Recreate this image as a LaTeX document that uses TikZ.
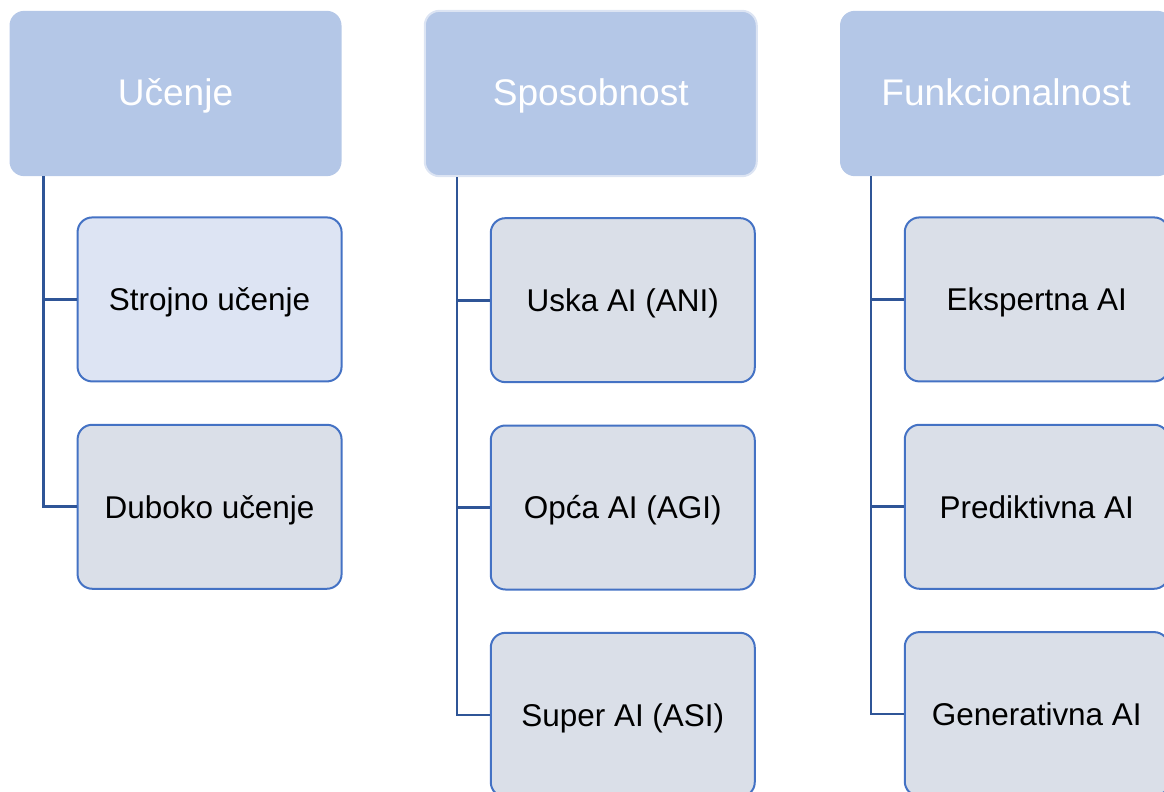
\documentclass[tikz,border=0pt]{standalone}
\usepackage{fontspec}
\setmainfont{Liberation Sans}
\usepackage{xcolor}
\usepackage{tikz}
\usetikzlibrary{positioning}
\definecolor{headfill}{HTML}{B4C7E7}
\definecolor{headline}{HTML}{DCE4F3}
\definecolor{leaffill}{HTML}{DADFE8}
\definecolor{leaflight}{HTML}{DDE4F3}
\definecolor{leafline}{HTML}{4472C4}
\definecolor{linkline}{HTML}{2F5597}
\tikzset{head/.style ={fill=headfill, rounded corners=11pt, minimum width=249pt, minimum height=124pt, inner sep=0pt, text height=19.9pt, text depth=2pt, text=white, font=\fontsize{27.8}{32}\selectfont}}
\tikzset{leaf/.style ={draw=leafline, line width=1.5pt, fill=leaffill, rounded corners=11pt, minimum width=198pt, minimum height=123pt, inner sep=0pt, text height=16.9pt, text depth=0pt, font=\fontsize{23.6}{28}\selectfont}}
\tikzset{link/.style ={draw=linkline, line width=2pt}}

\begin{document}
\begin{tikzpicture}[x=0.75pt,y=-0.75pt]
\useasboundingbox (0,0) rectangle (1164,792);
\clip (0,0) rectangle (1164,792);
\node [head] (ucenje) at (175.5,93.5) {Učenje};
\node [head, draw=headline, line width=1.5pt, right=61.5pt of ucenje] (sposobnost) {Sposobnost};
\node [head, right=61.5pt of sposobnost] (funkcija) {Funkcionalnost};

\node [leaf, fill=leaflight, anchor=north west] (strojno) at ([xshift=50.5pt,yshift=-30pt]ucenje.south west) {Strojno učenje};
\node [leaf, below=31pt of strojno] (duboko) {Duboko učenje};

\node [leaf, anchor=north west] (uska) at ([xshift=49.5pt,yshift=-30pt]sposobnost.south west) {Uska AI (ANI)};
\node [leaf, below=31pt of uska] (opca) {Opća AI (AGI)};
\node [leaf, below=31pt of opca] (super) {Super AI (ASI)};

\node [leaf, anchor=north west] (ekspertna) at ([xshift=48pt,yshift=-30pt]funkcija.south west) {Ekspertna AI};
\node [leaf, below=31pt of ekspertna] (prediktivna) {Prediktivna AI};
\node [leaf, below=31pt of prediktivna] (generativna) {Generativna AI};

\draw [link] ([xshift=25.5pt]ucenje.south west) |- (strojno.west);
\draw [link] ([xshift=25.5pt]ucenje.south west) |- (duboko.west);
\draw [link] ([xshift=25pt]sposobnost.south west) |- (uska.west);
\draw [link] ([xshift=25pt]sposobnost.south west) |- (opca.west);
\draw [link] ([xshift=25pt]sposobnost.south west) |- (super.west);
\draw [link] ([xshift=23.5pt]funkcija.south west) |- (ekspertna.west);
\draw [link] ([xshift=23.5pt]funkcija.south west) |- (prediktivna.west);
\draw [link] ([xshift=23.5pt]funkcija.south west) |- (generativna.west);
\end{tikzpicture}
\end{document}
